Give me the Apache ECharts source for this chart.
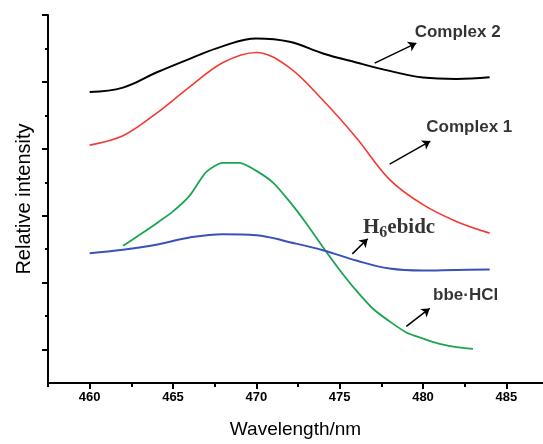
<!DOCTYPE html>
<html><head><meta charset="utf-8">
<script src="https://cdn.jsdelivr.net/npm/echarts@6/dist/echarts.min.js"></script>
<style>html,body{margin:0;padding:0;background:#fff}#c{width:543px;height:444px}</style>
</head><body><div id="c"></div>
<script>
// Wavelength (nm) samples per curve
const wlComplex2 = [460,462,464,466,468,470,472,474,476,478,480,482,484];
const complex2   = [8.70,8.83,9.28,9.69,10.07,10.30,10.20,9.85,9.58,9.33,9.13,9.09,9.14];

const wlComplex1 = [460,462,464,466,468,470,472,474,476,478,480,482,484];
const complex1   = [7.11,7.39,8.06,8.85,9.58,9.88,9.42,8.45,7.33,6.08,5.33,4.83,4.48];

const wlBbe = [462,463,464,465,466,467,468,469,470,471,472,473,474,475,476,477,478,479,480,481,482,483];
const bbeHCl = [4.10,4.43,4.77,5.13,5.60,6.31,6.58,6.58,6.34,5.99,5.42,4.77,4.06,3.38,2.76,2.22,1.84,1.51,1.33,1.17,1.07,1.02];

const wlH6 = [460,462,464,466,468,470,472,474,476,478,480,482,484];
const h6ebidc = [3.88,3.98,4.13,4.35,4.45,4.42,4.21,3.97,3.66,3.42,3.36,3.38,3.39];

// tick values
const xMajorTicks = [460,465,470,475,480,485];
const xMinorTicks = [457.5,462.5,467.5,472.5,477.5,482.5];
const yMajorTicks = [1,3,5,7,9,11];
const yMinorTicks = [2,4,6,8,10];

// annotations: [x, y, text] and arrows [x1,y1,x2,y2]
const labelNames = ['Complex 2','Complex 1','H6ebidc','bbe·HCl'];
const labelPos = [[479.5,10.49],[480.2,7.64],[476.4,4.64],[480.6,2.62]];
const arrows = [[477.1,9.56,479.6,10.16],[478.0,6.54,480.44,7.23],[475.76,3.86,476.68,4.31],[479.0,1.69,480.4,2.23]];

const zip = (xs, ys) => xs.map((x,i)=>[x, ys[i]]);

const chart = echarts.init(document.getElementById('c'), null, {renderer:'canvas'});
const axisBase = {
  type:'value', min:457.5, max:487.2, splitLine:{show:false}, position:'bottom'
};
const yBase = {type:'value', min:0, max:11, splitLine:{show:false}, position:'left'};
chart.setOption({
  animation:false,
  grid:{left:48, right:0, top:15, bottom:59},
  xAxis:[
    Object.assign({}, axisBase, {
      name:'Wavelength/nm', nameLocation:'middle', nameGap:37,
      nameTextStyle:{fontFamily:'Liberation Sans, Arial', fontSize:19, color:'#000'},
      axisLine:{show:true, lineStyle:{color:'#000', width:2}},
      axisTick:{show:true, customValues:xMajorTicks, length:6, lineStyle:{color:'#000', width:2}},
      axisLabel:{show:true, customValues:xMajorTicks, margin:8, fontFamily:'Liberation Sans, Arial', fontWeight:'bold', fontSize:13, color:'#000'}
    }),
    Object.assign({}, axisBase, {
      axisLine:{show:false},
      axisTick:{show:true, customValues:xMinorTicks, length:4, lineStyle:{color:'#000', width:2}},
      axisLabel:{show:false}
    })
  ],
  yAxis:[
    Object.assign({}, yBase, {
      name:'Relative intensity', nameLocation:'middle', nameGap:14,
      nameTextStyle:{fontFamily:'Liberation Sans, Arial', fontSize:20, color:'#000'},
      axisLine:{show:true, lineStyle:{color:'#000', width:2}},
      axisTick:{show:true, customValues:yMajorTicks, length:6, lineStyle:{color:'#000', width:2}},
      axisLabel:{show:false}
    }),
    Object.assign({}, yBase, {
      axisLine:{show:false},
      axisTick:{show:true, customValues:yMinorTicks, length:3, lineStyle:{color:'#000', width:2}},
      axisLabel:{show:false}
    })
  ],
  series:[
    {type:'line', data:zip(wlComplex2, complex2), smooth:0.4, showSymbol:false, lineStyle:{color:'#000', width:2}},
    {type:'line', data:zip(wlComplex1, complex1), smooth:0.35, showSymbol:false, lineStyle:{color:'#f23a32', width:1.6}},
    {type:'line', data:zip(wlBbe, bbeHCl), smooth:0.25, showSymbol:false, lineStyle:{color:'#1ba552', width:1.8}},
    {type:'line', data:zip(wlH6, h6ebidc), smooth:0.4, showSymbol:false, lineStyle:{color:'#3a52b8', width:2}},
    {type:'lines', coordinateSystem:'cartesian2d', symbol:['none','arrow'], symbolSize:8,
      lineStyle:{color:'#000', width:1.5, opacity:1},
      data: arrows.map(a=>({coords:[[a[0],a[1]],[a[2],a[3]]]}))},
    {type:'scatter', symbolSize:0, silent:true,
      data: labelPos.map((p,i)=>({value:[p[0],p[1]], name:labelNames[i]})),
      label:{show:true, position:'right', distance:0,
        formatter: p => p.name === 'H6ebidc' ? '{h|H}{s|6}{h|ebidc}' : p.name,
        fontFamily:'Liberation Sans, Arial', fontWeight:'bold', fontSize:17, color:'#000',
        rich:{
          h:{fontFamily:'Liberation Serif, Times New Roman', fontWeight:'bold', fontSize:21, color:'#000'},
          s:{fontFamily:'Liberation Serif, Times New Roman', fontWeight:'bold', fontSize:16, color:'#000', padding:[10,0,0,0]}
        }
      }}
  ]
});
</script></body></html>
